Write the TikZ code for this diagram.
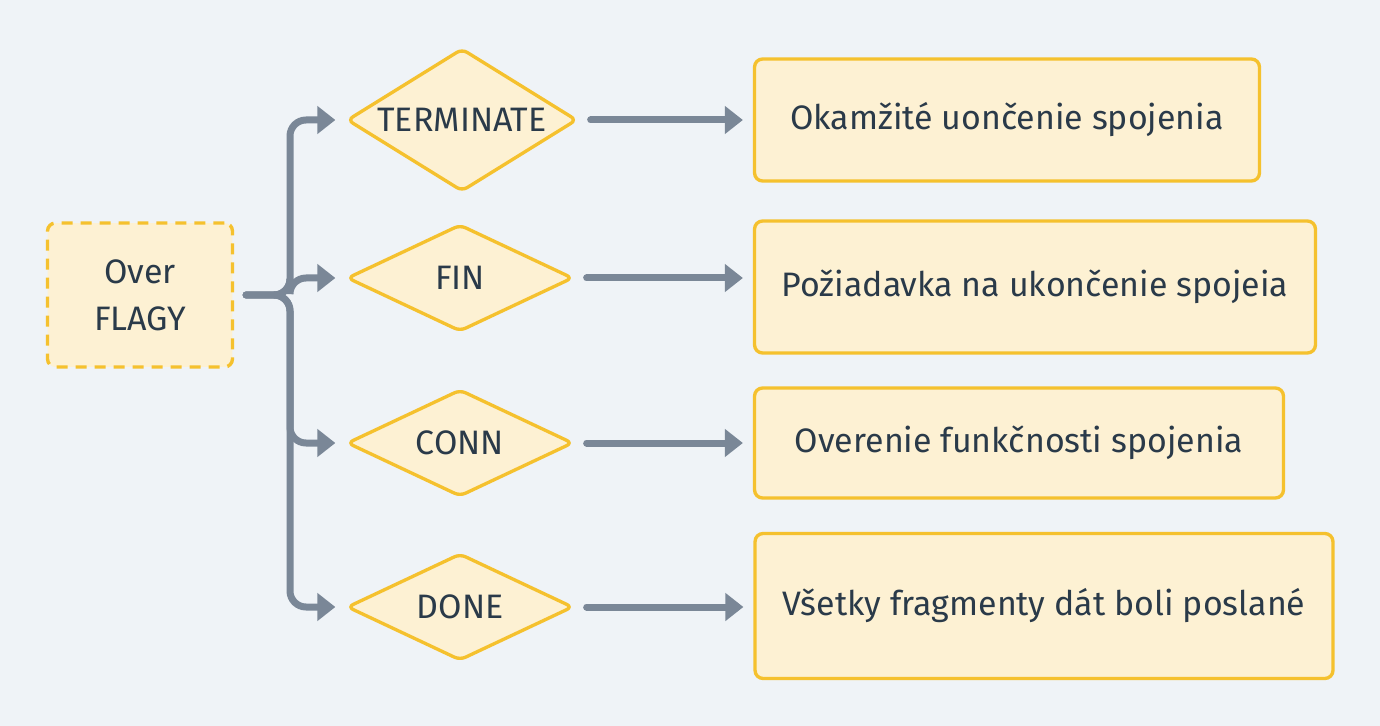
\documentclass[tikz,border=0pt]{standalone}
\usepackage{fontspec}
\setmainfont{Fira Sans}
\usepackage{tikz}
\usetikzlibrary{backgrounds,shapes.geometric,arrows.meta}
\usepackage{xcolor}
\definecolor{canvas}{HTML}{EFF3F7}
\definecolor{flagfill}{HTML}{FDF1D3}
\definecolor{flagline}{HTML}{F5C12E}
\definecolor{wire}{HTML}{7A8797}
\definecolor{ink}{HTML}{2A3A49}
\newcommand{\flagtxt}[1]{\makebox[0pt]{#1}}

\begin{document}
\begin{tikzpicture}[x=0.02cm,y=-0.02cm,
		background rectangle/.style={fill=canvas},show background rectangle,
		flagbox/.style={draw=flagline,fill=flagfill,line width=1.9pt,rounded corners=0.16cm,
			text=ink,font=\fontsize{19.3}{26.6}\selectfont,align=center,inner sep=0pt},
		flagdia/.style={diamond,draw=flagline,fill=flagfill,line width=1.9pt,rounded corners=0.12cm,
			text=ink,font=\fontsize{19.3}{24}\selectfont,inner sep=0pt},
		wire/.style={draw=wire,line width=0.14cm,line cap=round,rounded corners=0.32cm,
			-{Triangle[length=0.36cm,width=0.54cm]},shorten <=0.24cm,shorten >=0.2cm}]
		\useasboundingbox (0,0) rectangle (1380,726);
		%
		% source
		\node[flagbox,dashed,dash pattern=on 0.22cm off 0.16cm,minimum width=3.7cm,minimum height=2.88cm] (over) at (140,295) {Over\\FLAGY};
		\coordinate (split) at (290,295);
		%
		% flags
		\node[flagdia,minimum width=4.6cm,minimum height=2.86cm] (term) at (462,120) {\flagtxt{TERMINATE}};
		\node[flagdia,minimum width=4.52cm,minimum height=2.14cm] (fin) at (460,278) {\flagtxt{FIN}};
		\node[flagdia,minimum width=4.52cm,minimum height=2.14cm] (conn) at (460,443) {\flagtxt{CONN}};
		\node[flagdia,minimum width=4.52cm,minimum height=2.14cm] (done) at (460,607) {\flagtxt{DONE}};
		%
		% meanings
		\node[flagbox,minimum width=10.1cm,minimum height=2.44cm] (termtxt) at (1007,120) {Okamžité uončenie spojenia};
		\node[flagbox,minimum width=11.22cm,minimum height=2.64cm] (fintxt) at (1035,287) {Požiadavka na ukončenie spojeia};
		\node[flagbox,minimum width=10.58cm,minimum height=2.2cm] (conntxt) at (1019,443) {Overenie funkčnosti spojenia};
		\node[flagbox,minimum width=11.56cm,minimum height=2.9cm] (donetxt) at (1044,606) {Všetky fragmenty dát boli poslané};
		%
		% connectors
		\foreach \f in {term,fin,conn,done}{
			\draw[wire] (over.east) -- (split) |- (\f.west);
		}
		\draw[wire] (term.east) -- (term.east -| termtxt.west);
		\draw[wire] (fin.east) -- (fin.east -| fintxt.west);
		\draw[wire] (conn.east) -- (conn.east -| conntxt.west);
		\draw[wire] (done.east) -- (done.east -| donetxt.west);
	\end{tikzpicture}
\end{document}
